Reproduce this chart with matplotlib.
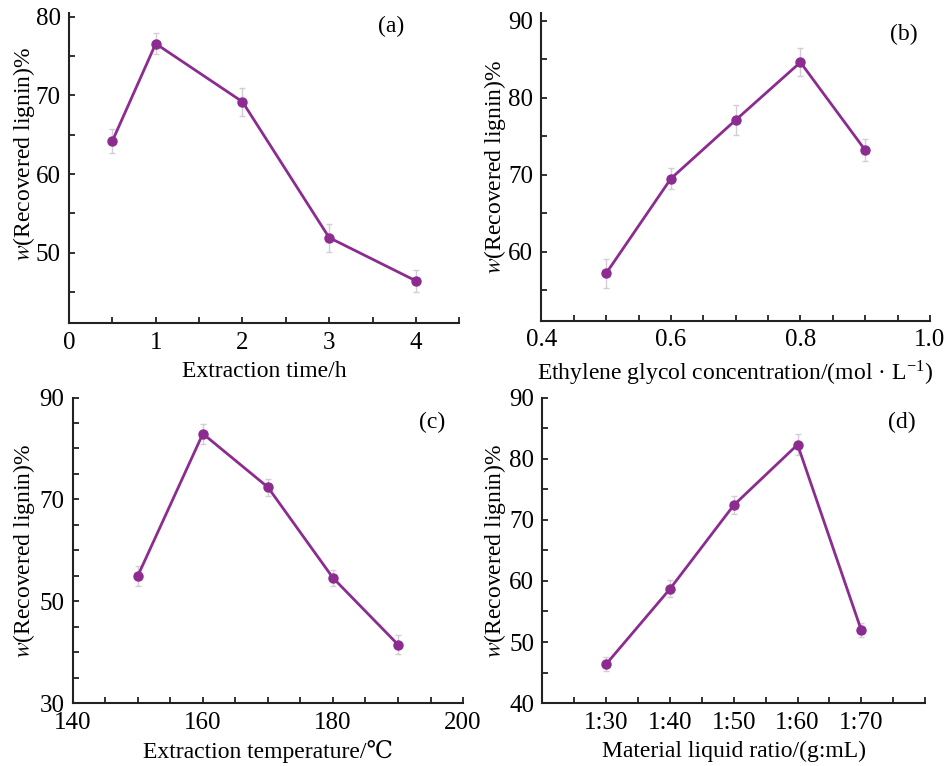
import numpy as np
import matplotlib
matplotlib.use('Agg')
import matplotlib.pyplot as plt
from matplotlib.ticker import MultipleLocator

plt.rcParams['font.family'] = ['Liberation Serif', 'DejaVu Serif', 'Noto Sans CJK SC']
plt.rcParams['mathtext.fontset'] = 'stix'

# (a) extraction time
time_h = [0.5, 1, 2, 3, 4]
lignin_a = [64.2, 76.6, 69.2, 51.9, 46.4]
err_a = [1.5, 1.3, 1.8, 1.8, 1.4]

# (b) ethylene glycol concentration
conc = [0.5, 0.6, 0.7, 0.8, 0.9]
lignin_b = [57.2, 69.5, 77.1, 84.6, 73.2]
err_b = [1.9, 1.4, 1.9, 1.8, 1.4]

# (c) extraction temperature
temp_c = [150, 160, 170, 180, 190]
lignin_c = [55.0, 82.9, 72.4, 54.6, 41.5]
err_c = [1.9, 2.0, 1.7, 1.6, 1.8]

# (d) material liquid ratio
ratio_labels = ['1:30', '1:40', '1:50', '1:60', '1:70']
lignin_d = [46.4, 58.7, 72.4, 82.3, 51.9]
err_d = [1.2, 1.4, 1.5, 1.7, 1.15]

ylabel = r'$w$(Recovered lignin)%'
line_color = '#8c2b90'
err_color = '#d6ccd6'

fig = plt.figure(figsize=(9.45, 7.66), dpi=100)

# 位置は参照画像から読み取り
rects = {
    'a': [0.073, 0.578, 0.413, 0.405],
    'b': [0.573, 0.581, 0.411, 0.402],
    'c': [0.077, 0.082, 0.413, 0.399],
    'd': [0.574, 0.082, 0.405, 0.399],
}


def draw_panel(ax, x, y, err, tag, tag_pos, label_xy):
    ax.errorbar(x, y, yerr=err, fmt='none', ecolor=err_color,
                elinewidth=1.0, capsize=2.5, capthick=1.0, zorder=2)
    ax.plot(x, y, '-o', color=line_color, lw=2.0, ms=6.5, zorder=3)
    for side in ['top', 'right']:
        ax.spines[side].set_visible(False)
    for side in ['left', 'bottom']:
        ax.spines[side].set_linewidth(1.5)
        ax.spines[side].set_color('#222222')
    ax.tick_params(which='both', direction='in', length=4, width=1.3,
                   color='#222222', labelsize=18, pad=6)
    ax.set_ylabel(ylabel, fontsize=17)
    ax.yaxis.set_label_coords(*label_xy)
    ax.text(tag_pos[0], tag_pos[1], tag, transform=ax.transAxes,
            fontsize=17, ha='center', va='center')


ax = fig.add_axes(rects['a'])
draw_panel(ax, time_h, lignin_a, err_a, '(a)', (0.826, 0.958), (-0.082, 0.547))
ax.set_xlim(0, 4.5)
ax.set_ylim(41, 80.5)
ax.xaxis.set_major_locator(MultipleLocator(1))
ax.xaxis.set_minor_locator(MultipleLocator(0.5))
ax.yaxis.set_major_locator(MultipleLocator(10))
ax.yaxis.set_minor_locator(MultipleLocator(5))
ax.set_xlabel('Extraction time/h', fontsize=17, labelpad=5)

ax = fig.add_axes(rects['b'])
draw_panel(ax, conc, lignin_b, err_b, '(b)', (0.932, 0.93), (-0.087, 0.5))
ax.set_xlim(0.4, 1.0)
ax.set_ylim(51, 91)
ax.set_xticks([0.4, 0.6, 0.8, 1.0])
ax.set_xticklabels(['0.4', '0.6', '0.8', '1.0'])
ax.xaxis.set_minor_locator(MultipleLocator(0.05))
ax.yaxis.set_major_locator(MultipleLocator(10))
ax.yaxis.set_minor_locator(MultipleLocator(5))
ax.set_xlabel('Ethylene glycol concentration/(mol · L$^{\\mathregular{-1}}$)',
              fontsize=17, labelpad=5)

ax = fig.add_axes(rects['c'])
draw_panel(ax, temp_c, lignin_c, err_c, '(c)', (0.92, 0.92), (-0.092, 0.5))
ax.set_xlim(140, 200)
ax.set_ylim(30, 90)
ax.xaxis.set_major_locator(MultipleLocator(20))
ax.xaxis.set_minor_locator(MultipleLocator(5))
ax.set_yticks([30, 50, 70, 90])
ax.yaxis.set_minor_locator(MultipleLocator(5))
ax.set_xlabel('Extraction temperature/℃', fontsize=17, labelpad=5)

ax = fig.add_axes(rects['d'])
xd = np.arange(1, len(ratio_labels) + 1)
draw_panel(ax, xd, lignin_d, err_d, '(d)', (0.939, 0.92), (-0.091, 0.5))
ax.set_xlim(0, 6)
ax.set_ylim(40, 90)
ax.set_xticks(xd)
ax.set_xticklabels(ratio_labels)
ax.xaxis.set_minor_locator(MultipleLocator(0.5))
ax.yaxis.set_major_locator(MultipleLocator(10))
ax.yaxis.set_minor_locator(MultipleLocator(5))
ax.set_xlabel('Material liquid ratio/(g:mL)', fontsize=17, labelpad=5)

fig.savefig('out.png', dpi=100)
